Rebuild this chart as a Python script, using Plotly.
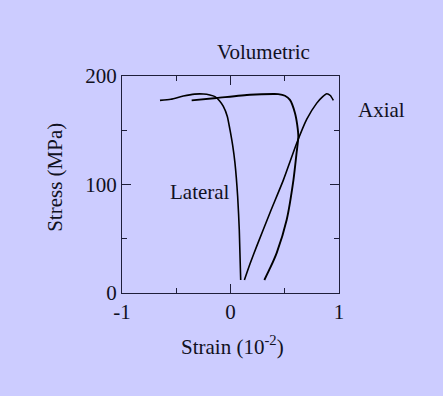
import plotly.graph_objects as go

# Data (strain in 1e-2, stress in MPa)
lateral_strain = [-0.65, -0.55, -0.435, -0.33, -0.25, -0.19, -0.143, -0.1, -0.066, -0.03, -0.005, 0.02, 0.041, 0.066, 0.081, 0.094]
lateral_stress = [177.5, 178.5, 181.5, 183.3, 183.4, 182.5, 181, 177, 172, 163, 150.5, 136, 120, 89, 58, 12]

axial_strain = [0.128, 0.18, 0.241, 0.364, 0.487, 0.61, 0.702, 0.795, 0.85, 0.887, 0.92, 0.948]
axial_stress = [12, 27, 43, 74, 104, 138, 160, 175, 181, 183.7, 182, 177.5]

vol_strain = [0.312, 0.37, 0.426, 0.518, 0.58, 0.61, 0.625, 0.615, 0.594, 0.548, 0.502, 0.44, 0.395, 0.18, -0.127, -0.358]
vol_stress = [12, 24, 37, 67.5, 104, 130, 144, 155, 166, 178, 181.8, 183.3, 183.4, 182.7, 179.7, 177.5]

font_family = "Liberation Serif, Times New Roman, serif"
bg = "#CCCCFF"
axis_color = "#1E1E3A"
text_color = "#111122"

fig = go.Figure()
for xs, ys, name, w in [(lateral_strain, lateral_stress, "Lateral", 1.6),
                        (axial_strain, axial_stress, "Axial", 1.6),
                        (vol_strain, vol_stress, "Volumetric", 1.9)]:
    fig.add_trace(go.Scatter(x=xs, y=ys, mode="lines", name=name,
                             line=dict(color="black", width=w, shape="spline", smoothing=0.6),
                             showlegend=False, hoverinfo="skip"))

axis_common = dict(
    showgrid=False, zeroline=False, showline=True, linecolor=axis_color, linewidth=1.3,
    mirror="ticks", ticks="inside", ticklen=9, tickwidth=1.3, tickcolor=axis_color,
    tickfont=dict(family=font_family, size=21, color=text_color),
)

fig.update_xaxes(range=[-1, 1], tickmode="array", tickvals=[-1, 0, 1], ticktext=["-1", "0", "1"],
                 minor=dict(tickmode="array", tickvals=[-0.5, 0.5], ticks="inside", ticklen=5,
                            tickwidth=1.3, tickcolor=axis_color, showgrid=False),
                 **axis_common)
fig.update_yaxes(range=[0, 200], tickmode="array", tickvals=[0, 100, 200], ticktext=["0", "100", "200"],
                 minor=dict(tickmode="array", tickvals=[50, 150], ticks="inside", ticklen=5,
                            tickwidth=1.3, tickcolor=axis_color, showgrid=False),
                 **axis_common)

ann_font = dict(family=font_family, size=21, color=text_color)
annotations = [
    dict(text="Volumetric", x=0.654, y=1.11),
    dict(text="Axial", x=1.198, y=0.843),
    dict(text="Lateral", x=0.359, y=0.465),
    dict(text="Strain (10<sup>-2</sup>)", x=0.507, y=-0.24),
    dict(text="Stress (MPa)", x=-0.309, y=0.535, textangle=-90),
]
for a in annotations:
    fig.add_annotation(xref="paper", yref="paper", showarrow=False,
                       xanchor="center", yanchor="middle", font=ann_font, **a)

fig.update_layout(
    width=443, height=396,
    margin=dict(l=122, r=104, t=76, b=103),
    paper_bgcolor=bg, plot_bgcolor=bg,
    showlegend=False,
)

fig.write_html("out.html", config={"displayModeBar": False},
               post_script="document.body.style.margin='0';document.body.style.background='#CCCCFF';")
